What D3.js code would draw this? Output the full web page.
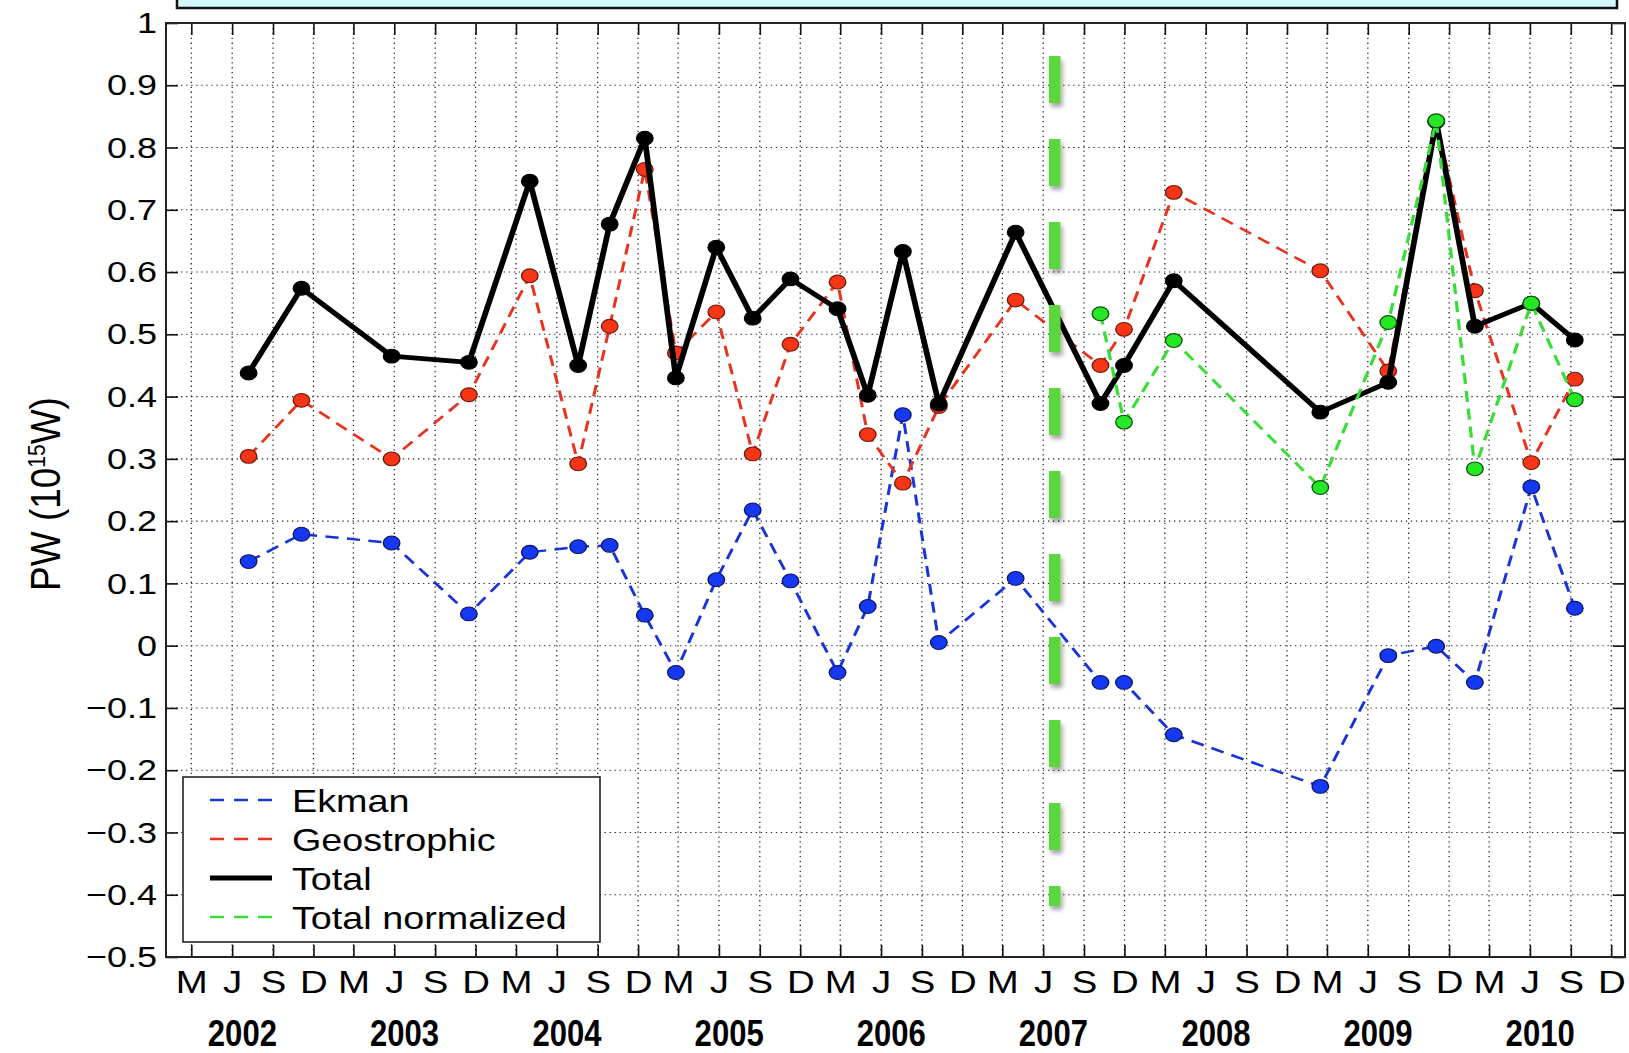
<!DOCTYPE html>
<html>
<head>
<meta charset="utf-8">
<script src="https://cdn.jsdelivr.net/npm/d3@7"></script>
<style>
  html, body { margin: 0; padding: 0; background: #fff; }
  svg { display: block; font-family: "Liberation Sans", Arial, Helvetica, sans-serif; }
</style>
</head>
<body>
<svg id="chart" width="1629" height="1053"></svg>
<script>
// ---- data: poleward heat transport components (PW, 10^15 W) ----
const sampleDates = [
  "2002-07-08", "2002-11-04", "2003-05-26", "2003-11-16", "2004-04-01", "2004-07-19",
  "2004-09-28", "2004-12-16", "2005-02-24", "2005-05-26", "2005-08-16", "2005-11-09",
  "2006-02-23", "2006-05-02", "2006-07-20", "2006-10-09", "2007-03-31", "2007-10-08",
  "2007-11-30", "2008-03-21", "2009-02-14", "2009-07-17", "2009-11-02", "2010-01-28",
  "2010-06-04", "2010-09-10"
];
const ekman = [
  0.135, 0.179, 0.165, 0.051, 0.150, 0.159, 0.161, 0.049, -0.043, 0.106, 0.218, 0.104,
  -0.043, 0.063, 0.371, 0.005, 0.108, -0.059, -0.059, -0.143, -0.226, -0.016, -0.001, -0.059,
  0.255, 0.060
];
const geostrophic = [
  0.304, 0.394, 0.300, 0.403, 0.594, 0.292, 0.513, 0.765, 0.470, 0.536, 0.308, 0.484,
  0.584, 0.339, 0.261, 0.384, 0.555, 0.450, 0.508, 0.728, 0.602, 0.441, 0.842, 0.570,
  0.294, 0.428
];
const total = [
  0.438, 0.574, 0.465, 0.455, 0.746, 0.450, 0.677, 0.815, 0.430, 0.640, 0.526, 0.589,
  0.541, 0.402, 0.633, 0.388, 0.664, 0.389, 0.450, 0.586, 0.375, 0.423, 0.842, 0.513,
  0.550, 0.491
];
const totalNormalized = [
  null, null, null, null, null, null, null, null, null, null, null, null,
  null, null, null, null, null, 0.533, 0.359, 0.490, 0.254, 0.519, 0.843, 0.284,
  0.550, 0.395
];

const seriesNames = ["Ekman", "Geostrophic", "Total", "Total normalized"];
const tickMonths = [2, 5, 8, 11];                 // Mar, Jun, Sep, Dec
const monthTickLabels = ["M", "J", "S", "D"];
const years = [2002, 2003, 2004, 2005, 2006, 2007, 2008, 2009, 2010];
const yTicks = [1, 0.9, 0.8, 0.7, 0.6, 0.5, 0.4, 0.3, 0.2, 0.1, 0, -0.1, -0.2, -0.3, -0.4, -0.5];
const yTickLabels = ["1", "0.9", "0.8", "0.7", "0.6", "0.5", "0.4", "0.3", "0.2", "0.1", "0",
  "\u22120.1", "\u22120.2", "\u22120.3", "\u22120.4", "\u22120.5"];
const eventDate = "2007-06-27";                   // vertical dashed marker
const eventRange = [0.947, -0.418];

// ---- layout ----
const W = 1629, H = 1053;
const box = { left: 166, top: 23, right: 1625, bottom: 957 };
const K = 1.2;    // the whole figure is stretched horizontally by this factor

const parse = d3.utcParse("%Y-%m-%d");
const dates = sampleDates.map(parse);

const x = d3.scaleUtc()
  .domain([Date.UTC(2002, 0, 3), Date.UTC(2011, 0, 1)])
  .range([box.left, box.right]);
// same scale expressed in the un-stretched drawing space
const xs = x.copy().range([box.left / K, box.right / K]);
const y = d3.scaleLinear().domain([-0.5, 1]).range([box.bottom, box.top]);

const tickDates = [];
years.forEach(yr => tickMonths.forEach(mo => tickDates.push(new Date(Date.UTC(yr, mo, 1)))));

const svg = d3.select("#chart");
svg.append("rect").attr("width", W).attr("height", H).attr("fill", "#fff");

const defs = svg.append("defs");
defs.append("clipPath").attr("id", "plotClip")
  .append("rect").attr("x", box.left / K).attr("y", box.top)
  .attr("width", (box.right - box.left) / K).attr("height", box.bottom - box.top);
const shadow = defs.append("filter").attr("id", "dashShadow")
  .attr("filterUnits", "userSpaceOnUse")
  .attr("x", 0).attr("y", 0).attr("width", W).attr("height", H);
shadow.append("feDropShadow").attr("dx", 1.7).attr("dy", 4).attr("stdDeviation", 2)
  .attr("flood-color", "#000").attr("flood-opacity", 0.35);

// title banner (cut at the top edge)
svg.append("rect")
  .attr("x", 177).attr("y", -20).attr("width", 1440).attr("height", 28)
  .attr("fill", "#d3f8fb").attr("stroke", "#111").attr("stroke-width", 2.5);

const stretched = svg.append("g").attr("transform", `scale(${K},1)`);

// ---- dotted grid ----
const grid = stretched.append("g").attr("stroke", "#222").attr("stroke-width", 1.05)
  .attr("fill", "none");
grid.selectAll("line.v").data(tickDates).join("line").attr("class", "v")
  .attr("x1", d => xs(d)).attr("x2", d => xs(d))
  .attr("y1", box.top).attr("y2", box.bottom)
  .attr("stroke-dasharray", "1.3,3.6");
grid.selectAll("line.h").data(yTicks.filter(v => v > -0.5 && v < 1)).join("line").attr("class", "h")
  .attr("x1", box.left / K).attr("x2", box.right / K)
  .attr("y1", d => y(d)).attr("y2", d => y(d))
  .attr("stroke-dasharray", "1.1,3.1");

// ---- series ----
const series = [
  { name: seriesNames[0], values: ekman, stroke: "#1834d8", width: 2.5, dash: "11,7", fill: "#1538f2", edge: "#0b1460" },
  { name: seriesNames[1], values: geostrophic, stroke: "#e8321e", width: 2.5, dash: "11,7", fill: "#f53515", edge: "#6e1a0c" },
  { name: seriesNames[2], values: total, stroke: "#000", width: 4.8, dash: null, fill: "#000", edge: "#000" },
  { name: seriesNames[3], values: totalNormalized, stroke: "#38dd38", width: 2.7, dash: "11,7", fill: "#25e825", edge: "#0e4f0e" }
];

const line = d3.line()
  .defined(d => d.v != null)
  .x(d => xs(d.date)).y(d => y(d.v));

const plot = stretched.append("g").attr("clip-path", "url(#plotClip)");
series.forEach(s => {
  const pts = dates.map((date, i) => ({ date, v: s.values[i] }));
  const g = plot.append("g");
  g.append("path").datum(pts)
    .attr("d", line).attr("fill", "none")
    .attr("stroke", s.stroke).attr("stroke-width", s.width)
    .attr("stroke-linejoin", "round")
    .attr("stroke-dasharray", s.dash);
  g.selectAll("circle").data(pts.filter(d => d.v != null)).join("circle")
    .attr("cx", d => xs(d.date)).attr("cy", d => y(d.v)).attr("r", 6.9)
    .attr("fill", s.fill).attr("stroke", s.edge).attr("stroke-width", 1.1);
});

// vertical dashed event marker
const ev = parse(eventDate);
stretched.append("line")
  .attr("x1", xs(ev)).attr("x2", xs(ev))
  .attr("y1", y(eventRange[0])).attr("y2", y(eventRange[1]))
  .attr("stroke", "#5cd63d").attr("stroke-width", 9.6)
  .attr("stroke-dasharray", "47,36")
  .attr("filter", "url(#dashShadow)");

// ---- axes (ticks pointing inward on all four sides) ----
function stretchText(sel) {
  sel.each(function () {
    const t = d3.select(this);
    t.attr("x", (+t.attr("x") || 0) / K).attr("transform", `scale(${K},1)`);
  });
}

const xAxis = svg.append("g").attr("transform", `translate(0,${box.bottom})`)
  .call(d3.axisBottom(x).tickValues(tickDates)
    .tickFormat(d => monthTickLabels[tickMonths.indexOf(d.getUTCMonth())])
    .tickSizeInner(-12).tickSizeOuter(0).tickPadding(13));
svg.append("g").attr("transform", `translate(0,${box.top})`)
  .call(d3.axisTop(x).tickValues(tickDates).tickFormat("")
    .tickSizeInner(-12).tickSizeOuter(0));
const yAxis = svg.append("g").attr("transform", `translate(${box.left},0)`)
  .call(d3.axisLeft(y).tickValues(yTicks)
    .tickFormat((d, i) => yTickLabels[i])
    .tickSizeInner(-12).tickSizeOuter(0).tickPadding(9));
svg.append("g").attr("transform", `translate(${box.right},0)`)
  .call(d3.axisRight(y).tickValues(yTicks).tickFormat("")
    .tickSizeInner(-12).tickSizeOuter(0));

svg.selectAll(".domain").remove();
svg.selectAll(".tick line").attr("stroke", "#111").attr("stroke-width", 1.6);
yAxis.selectAll(".tick text").attr("fill", "#000")
  .style("font-family", "'Liberation Sans', Arial, sans-serif").style("font-size", "30px");
xAxis.selectAll(".tick text").attr("fill", "#000")
  .style("font-family", "'Liberation Sans', Arial, sans-serif").style("font-size", "32px");
stretchText(xAxis.selectAll(".tick text"));
stretchText(yAxis.selectAll(".tick text"));

// plot frame
svg.append("rect")
  .attr("x", box.left).attr("y", box.top)
  .attr("width", box.right - box.left).attr("height", box.bottom - box.top)
  .attr("fill", "none").attr("stroke", "#222").attr("stroke-width", 2);

// year labels (tall, narrow bold lettering)
svg.append("g").selectAll("text").data(years).join("text")
  .attr("transform", d => `translate(${x(new Date(Date.UTC(d, 5, 24)))},1033) scale(0.84,1)`)
  .attr("text-anchor", "middle").attr("dy", "0.36em")
  .attr("font-size", 37).attr("font-weight", "bold").attr("fill", "#000")
  .text(d => d);

// y-axis title (glyphs widened along the page's horizontal direction)
const yTitle = svg.append("text")
  .attr("transform", "translate(60,494) rotate(-90) scale(1,1.15)")
  .attr("text-anchor", "middle").attr("font-size", 37).attr("fill", "#000");
yTitle.append("tspan").text("PW (10");
yTitle.append("tspan").attr("font-size", 21).attr("baseline-shift", "13").text("15");
yTitle.append("tspan").text("W)");

// ---- legend ----
const lg = svg.append("g");
lg.append("rect").attr("x", 183).attr("y", 777).attr("width", 417).attr("height", 165)
  .attr("fill", "#fff").attr("stroke", "#222").attr("stroke-width", 1.6);
series.forEach((s, i) => {
  const cy = 800 + i * 39;
  lg.append("line").attr("x1", 210).attr("x2", 272).attr("y1", cy).attr("y2", cy)
    .attr("stroke", s.stroke).attr("stroke-width", s.dash ? 2.6 : 5)
    .attr("stroke-dasharray", s.dash ? "14,10" : null);
  lg.append("text")
    .attr("transform", `translate(292,${cy}) scale(1.18,1)`)
    .attr("dy", "0.36em").attr("font-size", 32).attr("fill", "#000")
    .text(s.name);
});
</script>
</body>
</html>
